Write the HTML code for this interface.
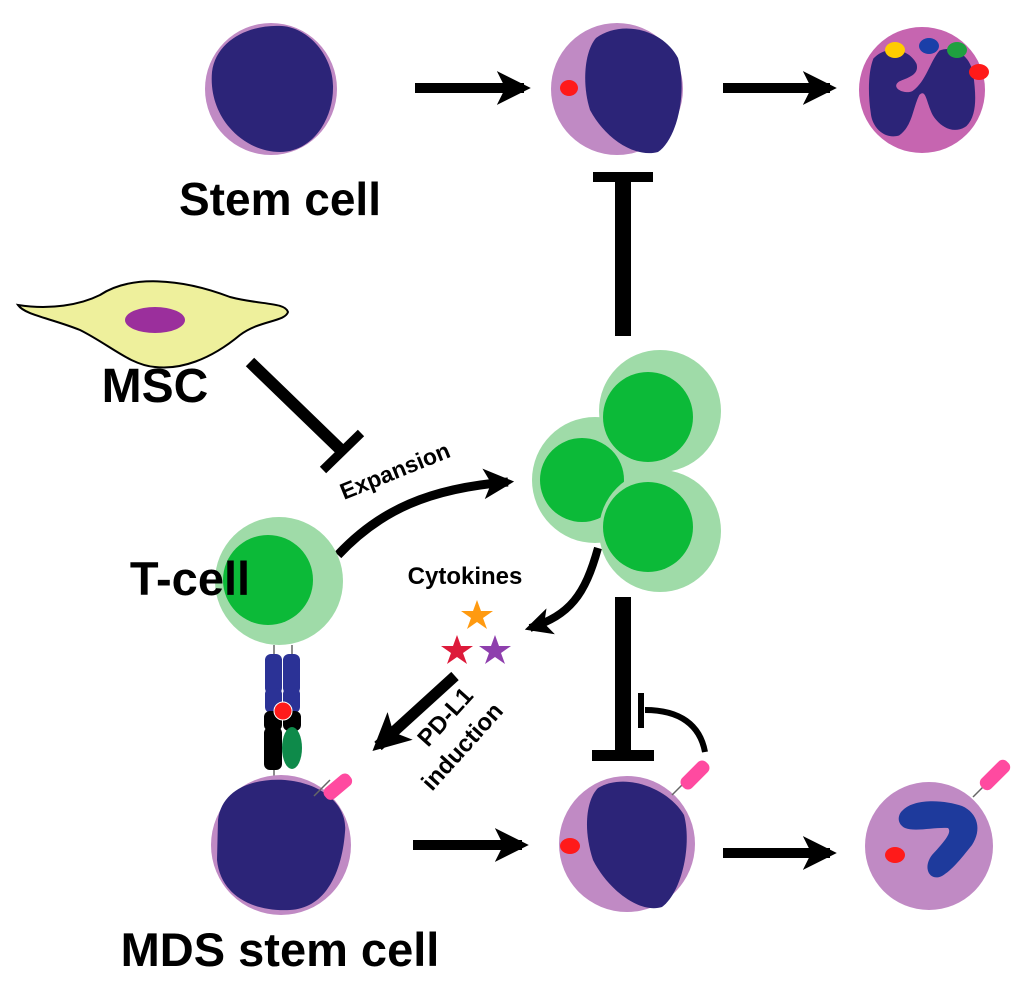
<!DOCTYPE html>
<html><head><style>
html,body{margin:0;padding:0;background:#fff;}
svg{display:block;}
text{font-family:"Liberation Sans",Arial,sans-serif;font-weight:bold;fill:#000;}
</style></head><body>
<svg width="1024" height="991" viewBox="0 0 1024 991" xmlns="http://www.w3.org/2000/svg">
<defs>
<marker id="ah" viewBox="0 0 10 10" refX="8" refY="5" markerWidth="3.4" markerHeight="3.6" orient="auto" markerUnits="strokeWidth">
<path d="M0,0 L10,5 L0,10 L2.5,5 Z" fill="#000"/></marker>
<marker id="ah2" viewBox="0 0 10 10" refX="8" refY="5" markerWidth="4" markerHeight="4.4" orient="auto" markerUnits="strokeWidth">
<path d="M0,0 L10,5 L0,10 L2.5,5 Z" fill="#000"/></marker>
</defs>
<!-- Top row -->
<circle cx="271" cy="89" r="66" fill="#c08ac4"/>
<path d="M212,72 C216,40 250,24 282,26 C310,28 334,58 333,88 C333,120 312,152 280,152 C244,152 208,118 212,72 Z" fill="#2c2478"/>
<line x1="415" y1="88" x2="524" y2="88" stroke="#000" stroke-width="10" marker-end="url(#ah)"/>
<circle cx="617" cy="89" r="66" fill="#c08ac4"/>
<path d="M596,38 C620,20 662,28 678,58 C688,95 676,140 658,152 C636,158 606,140 590,110 C582,85 584,52 596,38 Z" fill="#2c2478"/>
<ellipse cx="569" cy="88" rx="9" ry="8" fill="#ff1a1a"/>
<line x1="723" y1="88" x2="830" y2="88" stroke="#000" stroke-width="10" marker-end="url(#ah)"/>
<circle cx="922" cy="90" r="63" fill="#c665b0"/>
<g transform="translate(922,95) scale(1.35) translate(-922,-95)">
<path d="M886,68 C895,58 912,60 918,72 C920,80 912,82 905,85 C898,90 910,95 915,92 C925,85 928,70 935,62 C945,58 958,65 960,80 C962,95 963,110 955,118 C945,125 935,118 930,110 C925,100 925,90 920,95 C915,105 915,118 905,125 C895,128 885,120 884,108 C882,95 882,78 886,68 Z" fill="#2c2478"/>
</g>
<ellipse cx="895" cy="50" rx="10" ry="8" fill="#ffcc00"/>
<ellipse cx="929" cy="46" rx="10" ry="8" fill="#1a3fa8"/>
<ellipse cx="957" cy="50" rx="10" ry="8" fill="#1fa040"/>
<ellipse cx="979" cy="72" rx="10" ry="8" fill="#ff1a1a"/>
<text x="280" y="215" font-size="46" text-anchor="middle">Stem cell</text>
<!-- central top inhibitor -->
<rect x="615" y="178" width="16" height="158" fill="#000"/>
<rect x="593" y="172" width="60" height="10" fill="#000"/>
<!-- MSC -->
<path d="M18,305 C50,310 80,305 100,295 C130,275 180,278 230,297 C260,305 285,302 288,312 C285,322 260,320 240,335 C210,360 180,370 155,367 C130,365 110,345 80,330 C50,318 25,315 18,305 Z" fill="#eef09c" stroke="#000" stroke-width="2"/>
<ellipse cx="155" cy="320" rx="30" ry="13" fill="#9b2f9c"/>
<text x="155" y="402" font-size="48" text-anchor="middle">MSC</text>
<line x1="250" y1="362" x2="343" y2="452" stroke="#000" stroke-width="12"/>
<line x1="323" y1="470" x2="361" y2="433" stroke="#000" stroke-width="9"/>
<text transform="translate(344,500) rotate(-22)" font-size="23">Expansion</text>
<path d="M338,555 C380,510 430,488 508,482" fill="none" stroke="#000" stroke-width="9" marker-end="url(#ah)"/>
<!-- cluster -->
<circle cx="660" cy="411" r="61" fill="#9fdba8"/>
<circle cx="595" cy="480" r="63" fill="#9fdba8"/>
<circle cx="582" cy="480" r="42" fill="#0cba38"/>
<circle cx="648" cy="417" r="45" fill="#0cba38"/>
<circle cx="660" cy="531" r="61" fill="#9fdba8"/>
<circle cx="648" cy="527" r="45" fill="#0cba38"/>
<!-- T cell -->
<circle cx="279" cy="581" r="64" fill="#9fdba8"/>
<circle cx="268" cy="580" r="45" fill="#0cba38"/>
<text x="190" y="595" font-size="47" text-anchor="middle">T-cell</text>
<!-- receptor complex -->
<line x1="274" y1="645" x2="274" y2="655" stroke="#666" stroke-width="1.5"/>
<line x1="292" y1="645" x2="292" y2="655" stroke="#666" stroke-width="1.5"/>
<rect x="265" y="654" width="17" height="40" rx="6" fill="#2b3296"/>
<rect x="283" y="654" width="17" height="40" rx="6" fill="#2b3296"/>
<rect x="265" y="688" width="17" height="25" rx="6" fill="#2b3296"/>
<rect x="283" y="688" width="17" height="25" rx="6" fill="#2b3296"/>
<rect x="264" y="711" width="18" height="20" rx="6" fill="#000"/>
<rect x="283" y="711" width="18" height="20" rx="6" fill="#000"/>
<rect x="264" y="727" width="18" height="43" rx="6" fill="#000"/>
<ellipse cx="292" cy="748" rx="10" ry="21" fill="#0e8a4a"/>
<circle cx="283" cy="711" r="9" fill="#ff1a1a" stroke="#fff" stroke-width="1"/>
<line x1="274" y1="770" x2="274" y2="778" stroke="#666" stroke-width="1.5"/>
<!-- cytokines -->
<text x="465" y="584" font-size="24" text-anchor="middle">Cytokines</text>
<polygon points="477,600 481,611 493,611 483,618 487,629 477,622 467,629 471,618 461,611 473,611" fill="#ff9a10"/>
<polygon points="457,635 461,646 473,646 463,653 467,664 457,657 447,664 451,653 441,646 453,646" fill="#dd1a3a"/>
<polygon points="495,635 499,646 511,646 501,653 505,664 495,657 485,664 489,653 479,646 491,646" fill="#8e3fad"/>
<path d="M598,548 C585,595 570,615 530,628" fill="none" stroke="#000" stroke-width="8" marker-end="url(#ah)"/>
<line x1="455" y1="676" x2="378" y2="746" stroke="#000" stroke-width="11" marker-end="url(#ah)"/>
<text transform="translate(428,748) rotate(-48)" font-size="24">PD-L1</text>
<text transform="translate(432,792) rotate(-48)" font-size="24">induction</text>
<!-- bottom inhibitors -->
<rect x="615" y="597" width="16" height="155" fill="#000"/>
<rect x="592" y="750" width="62" height="11" fill="#000"/>
<path d="M705,752 C700,725 680,710 645,710" fill="none" stroke="#000" stroke-width="6"/>
<rect x="638" y="693" width="6" height="35" fill="#000"/>
<!-- bottom row -->
<circle cx="281" cy="845" r="70" fill="#c08ac4"/>
<path d="M218,820 C222,788 255,778 285,780 C322,783 348,805 345,832 C342,872 326,908 290,910 C248,912 220,892 217,860 Z" fill="#2c2478"/>
<line x1="314" y1="796" x2="330" y2="780" stroke="#666" stroke-width="1.5"/>
<rect x="326" y="775" width="14" height="32" rx="6" fill="#ff4aa0" transform="rotate(50 340 794)"/>
<text x="280" y="966" font-size="47" text-anchor="middle">MDS stem cell</text>
<line x1="413" y1="845" x2="522" y2="845" stroke="#000" stroke-width="10" marker-end="url(#ah)"/>
<circle cx="627" cy="844" r="68" fill="#c08ac4"/>
<path d="M598,788 C625,772 668,788 684,815 C692,845 682,892 662,907 C640,914 608,890 593,860 C583,830 586,800 598,788 Z" fill="#2c2478"/>
<ellipse cx="570" cy="846" rx="10" ry="8" fill="#ff1a1a"/>
<line x1="672" y1="795" x2="682" y2="785" stroke="#666" stroke-width="1.5"/>
<rect x="688" y="758" width="14" height="34" rx="6" fill="#ff4aa0" transform="rotate(45 695 775)"/>
<line x1="723" y1="853" x2="830" y2="853" stroke="#000" stroke-width="10" marker-end="url(#ah)"/>
<circle cx="929" cy="846" r="64" fill="#c08ac4"/>
<path d="M903,810 C915,798 945,800 962,806 C978,813 982,830 972,845 C960,860 952,870 942,876 C930,882 922,868 932,855 C946,840 952,832 948,828 C935,827 915,832 905,828 C897,824 897,815 903,810 Z" fill="#1e3a9c"/>
<ellipse cx="895" cy="855" rx="10" ry="8" fill="#ff1a1a"/>
<line x1="973" y1="797" x2="983" y2="787" stroke="#666" stroke-width="1.5"/>
<rect x="988" y="757" width="14" height="36" rx="6" fill="#ff4aa0" transform="rotate(45 995 775)"/>
</svg>
</body></html>
